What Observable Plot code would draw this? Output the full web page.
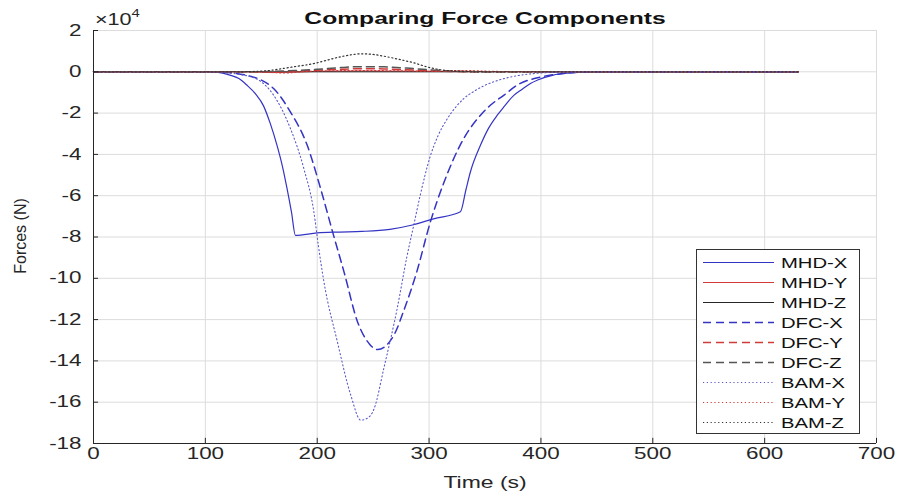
<!DOCTYPE html>
<html><head><meta charset="utf-8">
<script src="https://cdn.jsdelivr.net/npm/d3@7"></script>
<script src="https://cdn.jsdelivr.net/npm/@observablehq/plot@0.6"></script>
<style>
body{margin:0;background:#fff;font-family:"Liberation Sans",Arial,sans-serif;}
#wrap{position:relative;width:899px;height:499px;}
#legend{position:absolute;left:696px;top:249px;width:164px;height:185px;border:1px solid #333;background:#fff;box-sizing:border-box;}
</style></head><body><div id="wrap"><div id="legend"></div></div>
<script>
// time (s), force (x 1e4 N)
const mhdX = [[0,0],[100,0],[110,-0.02],[122,-0.16],[130,-0.33],[137,-0.64],[145,-1.08],[152,-1.65],[158,-2.5],[164,-3.55],[169,-4.6],[173,-5.65],[177,-6.8],[180.5,-7.92],[200,-7.8],[220,-7.76],[240,-7.73],[265,-7.63],[285,-7.42],[304,-7.12],[328,-6.78],[333,-5.7],[337,-4.84],[346,-3.55],[353,-2.75],[361,-2.1],[367,-1.69],[376,-1.13],[382,-0.89],[391,-0.55],[397,-0.4],[411,-0.16],[425,-0.06],[440,-0.01],[450,0],[630,0]];
const mhdY = [[0,0],[140,0],[160,-0.04],[200,0.02],[240,0.04],[280,0.03],[320,0.02],[360,0.01],[400,0],[630,0]];
const mhdZ = [[0,0],[200,0],[400,0],[630,0]];
const dfcX = [[0,0],[110,0],[120,-0.03],[135,-0.15],[150,-0.4],[161,-0.81],[176,-1.94],[191,-3.55],[203,-5.65],[214,-7.8],[224,-9.7],[236,-12.1],[247,-13.2],[254,-13.45],[262,-13.24],[270,-12.6],[277,-11.62],[289,-9.69],[301,-7.3],[313,-5.4],[331,-3.23],[346,-2.1],[355,-1.61],[367,-1.13],[379,-0.64],[400,-0.25],[420,-0.08],[445,0],[630,0]];
const dfcY = [[0,0],[140,0],[160,-0.02],[180,0.03],[200,0.07],[220,0.12],[240,0.15],[260,0.14],[280,0.1],[300,0.06],[320,0.02],[340,0],[630,0]];
const dfcZ = [[0,0],[140,0],[160,0.02],[180,0.06],[200,0.12],[220,0.2],[240,0.25],[260,0.24],[280,0.18],[300,0.1],[320,0.04],[340,0.01],[360,0],[630,0]];
const bamX = [[0,0],[100,0],[115,-0.03],[130,-0.12],[146,-0.35],[161,-1.13],[176,-2.74],[188,-4.68],[197,-6.78],[201,-8.4],[206,-10.17],[218,-13.07],[230,-15.66],[239,-16.87],[244,-16.8],[251,-16.3],[259.5,-14.37],[271.5,-11.46],[280,-9.0],[286,-7.5],[292,-6.0],[301,-4.1],[308,-3.1],[316,-2.3],[324,-1.7],[331,-1.3],[340,-0.95],[349,-0.68],[358,-0.48],[367,-0.33],[380,-0.18],[397,-0.07],[420,-0.01],[440,0],[630,0]];
const bamY = [[0,0],[150,0],[170,-0.06],[190,0.02],[210,0.05],[240,0.06],[270,0.05],[300,0.03],[330,0.06],[360,0.02],[390,0.01],[420,0],[630,0]];
const bamZ = [[0,0],[130,0],[145,0.02],[160,0.08],[167,0.14],[180,0.25],[197,0.4],[210,0.58],[221,0.73],[230,0.82],[239,0.87],[250,0.84],[262,0.73],[275,0.58],[286,0.44],[298,0.24],[310,0.1],[325,0.03],[340,0],[630,0]];

const seriesNames = ["MHD-X","MHD-Y","MHD-Z","DFC-X","DFC-Y","DFC-Z","BAM-X","BAM-Y","BAM-Z"];
const xTicks = [0,100,200,300,400,500,600,700];
const yTicks = [2,0,-2,-4,-6,-8,-10,-12,-14,-16,-18];
const titleText = "Comparing Force Components";
const xLabel = "Time (s)";
const yLabel = "Forces (N)";

const blue = "#3434c4", red = "#d23a3a", black = "#262626";
const dashed = "8,5", dotted = "1.2,2.6";
const series = [
  {name: seriesNames[0], data: mhdX, stroke: blue, dash: null, w: 1.2},
  {name: seriesNames[1], data: mhdY, stroke: red, dash: null, w: 1},
  {name: seriesNames[2], data: mhdZ, stroke: black, dash: null, w: 1},
  {name: seriesNames[3], data: dfcX, stroke: blue, dash: dashed, w: 1.5},
  {name: seriesNames[4], data: dfcY, stroke: red, dash: dashed, w: 1.5},
  {name: seriesNames[5], data: dfcZ, stroke: "#555", dash: dashed, w: 1.5},
  {name: seriesNames[6], data: bamX, stroke: "#5a5ac8", dash: dotted, w: 1.1},
  {name: seriesNames[7], data: bamY, stroke: red, dash: dotted, w: 1.1},
  {name: seriesNames[8], data: bamZ, stroke: "#333", dash: dotted, w: 1.2}
];

const plot = Plot.plot({
  width: 899, height: 499,
  marginLeft: 93, marginRight: 23, marginTop: 30, marginBottom: 56,
  style: {fontFamily: "'Liberation Sans', Arial, sans-serif", fontSize: "16px", color: "#262626", background: "#fff"},
  x: {domain: [0, 700], ticks: xTicks},
  y: {domain: [-18, 2], ticks: yTicks},
  marks: [
    Plot.gridX(xTicks, {stroke: "#dcdcdc", strokeOpacity: 1}),
    Plot.gridY(yTicks, {stroke: "#dcdcdc", strokeOpacity: 1}),
    ...series.map(s => Plot.line(s.data, {x: d => d[0], y: d => d[1], stroke: s.stroke, strokeDasharray: s.dash, strokeWidth: s.w, curve: "monotone-x"})),
    Plot.ruleX([0], {stroke: black, strokeWidth: 1}),
    Plot.ruleY([-18], {stroke: black, strokeWidth: 1}),
    Plot.ruleX(xTicks, {y1: -18, y2: -17.75, stroke: black}),
    Plot.ruleY(yTicks, {x1: 0, x2: 4.5, stroke: black}),
    Plot.axisX(xTicks, {tickSize: 0, tickPadding: 4, label: null, fontSize: 16, fill: "#262626", tickFormat: d => String(d)}),
    Plot.axisY(yTicks, {tickSize: 0, tickPadding: 12, label: null, fontSize: 16, fill: "#262626", tickFormat: d => String(d)}),
    Plot.text([xLabel], {frameAnchor: "bottom", dy: 44, fontSize: 17, fill: "#262626"}),
    Plot.text([titleText], {frameAnchor: "top", dy: -19, fontSize: 17, fontWeight: "bold", fill: "#111"})
  ]
});
const wrap = document.getElementById("wrap");
wrap.insertBefore(plot, wrap.firstChild);
const svg = d3.select(plot);

// y-axis label, centred on the frame
svg.append("text").attr("text-anchor", "middle").attr("dominant-baseline", "middle")
  .attr("transform", "translate(22,236) rotate(-90)")
  .attr("font-size", 16).attr("fill", "#262626").text(yLabel);

// x10^4 exponent label
const ex = svg.append("text").attr("x", 95).attr("y", 25).attr("text-anchor", "start")
  .attr("font-size", 16).attr("fill", "#262626");
ex.append("tspan").text("\u00d710");
ex.append("tspan").attr("font-size", 11).attr("dy", -8).text("4");

// horizontal stretch of text, matching the reference's wide glyphs
function stretch(sel, s) {
  sel.each(function () {
    const t = d3.select(this);
    const x = +t.attr("x") || 0, y = +t.attr("y") || 0;
    const tr = t.attr("transform") || "";
    t.attr("transform", `${tr} translate(${x},${y}) scale(${s},1) translate(${-x},${-y})`);
  });
}
stretch(svg.selectAll('g[aria-label="x-axis tick label"] text'), 1.4);
stretch(svg.selectAll('g[aria-label="y-axis tick label"] text'), 1.4);
svg.selectAll('g[aria-label="text"] text').each(function () {
  const t = d3.select(this);
  const txt = t.text();
  if (txt === titleText) stretch(t, 1.45);
  else if (txt === xLabel) stretch(t, 1.35);
});
stretch(ex, 1.35);

// legend
const lg = d3.select("#legend").append("svg").attr("width", 162).attr("height", 183)
  .style("font-family", "'Liberation Sans', Arial, sans-serif");
series.forEach((s, i) => {
  const y = 12.5 + i * 20;
  lg.append("line").attr("x1", 6).attr("x2", 77).attr("y1", y).attr("y2", y)
    .attr("stroke", s.stroke).attr("stroke-width", s.dash === dashed ? 1.3 : 1)
    .attr("stroke-dasharray", s.dash);
  const t = lg.append("text").attr("x", 84).attr("y", y).attr("dy", "0.35em")
    .attr("font-size", 15).attr("fill", "#111").text(s.name);
  stretch(t, 1.35);
});
</script></body></html>
